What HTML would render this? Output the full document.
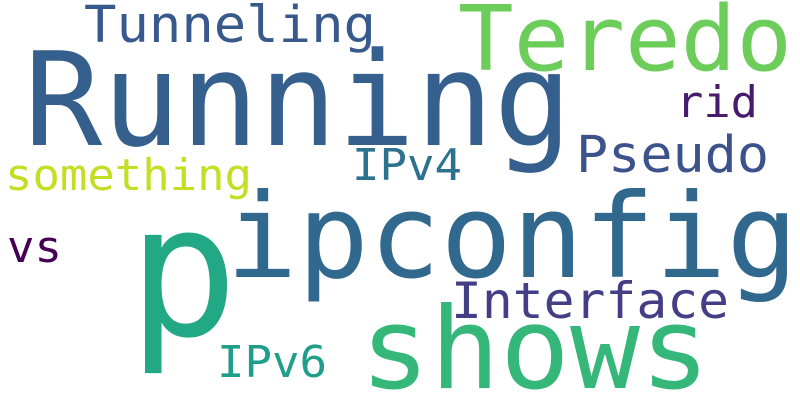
<!DOCTYPE html>
<html><head><meta charset="utf-8"><style>
html,body{margin:0;padding:0;background:#fff;}
svg{display:block;}
text{font-family:"DejaVu Sans Mono","Liberation Mono",monospace;}
</style></head><body>
<svg width="800" height="400" viewBox="0 0 800 400">
<rect width="800" height="400" fill="#fff"/>
<text x="24" y="145" font-size="130" fill="#355f8d" textLength="548" lengthAdjust="spacingAndGlyphs">Running</text>
<text x="458" y="70" font-size="90" fill="#6ccd5a" textLength="334" lengthAdjust="spacingAndGlyphs">Teredo</text>
<text x="84" y="42" font-size="51" fill="#38598c" textLength="292" lengthAdjust="spacingAndGlyphs">Tunneling</text>
<text x="676" y="117" font-size="44" fill="#481a6c" textLength="82" lengthAdjust="spacingAndGlyphs">rid</text>
<text x="576" y="172" font-size="51" fill="#3b528b" textLength="193" lengthAdjust="spacingAndGlyphs">Pseudo</text>
<text x="5" y="190" font-size="44" fill="#c2df23" textLength="247" lengthAdjust="spacingAndGlyphs">something</text>
<text x="352" y="180" font-size="44" fill="#2c718e" textLength="110" lengthAdjust="spacingAndGlyphs">IPv4</text>
<text x="7" y="262" font-size="44" fill="#440154" textLength="55" lengthAdjust="spacingAndGlyphs">vs</text>
<text x="128" y="335" font-size="183" fill="#22a884">p</text>
<text x="226" y="277" font-size="117" fill="#31688e" textLength="572" lengthAdjust="spacingAndGlyphs">ipconfig</text>
<text x="451" y="318" font-size="50" fill="#433e85" textLength="278" lengthAdjust="spacingAndGlyphs">Interface</text>
<text x="360" y="388" font-size="113" fill="#35b779" textLength="350" lengthAdjust="spacingAndGlyphs">shows</text>
<text x="217" y="377" font-size="44" fill="#1f9e89" textLength="110" lengthAdjust="spacingAndGlyphs">IPv6</text>
</svg>
</body></html>
